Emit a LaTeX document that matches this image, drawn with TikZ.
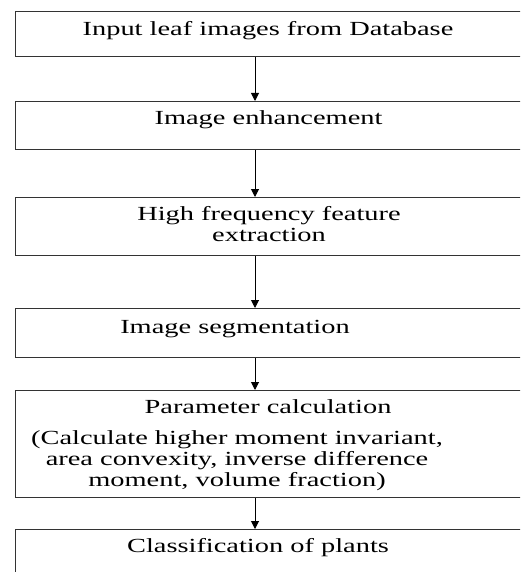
\documentclass[tikz,border=0pt]{standalone}
\usepackage{fontspec}
\setmainfont{Liberation Serif}
\usepackage{graphicx}
\usetikzlibrary{arrows.meta}
\newcommand{\wtxt}[1]{\scalebox{1.42}[1]{#1}}
\newcommand{\wlines}[1]{\scalebox{1.42}[1]{\begin{tabular}[t]{@{}c@{}}#1\end{tabular}}}
\tikzset{
  stepbox/.style={draw=black!80, line width=1.3pt, rectangle, fill=white, inner sep=0pt, minimum width=516pt, anchor=north west},
  lbl/.style={inner sep=0pt, anchor=base, font=\fontsize{20}{21}\selectfont, text=black},
  arr/.style={draw=black, line width=1pt, -{Triangle[length=8pt,width=8pt]}}
}
\begin{document}
\begin{tikzpicture}[x=1pt,y=-1pt]
\useasboundingbox (0,0) rectangle (520,572);
\fill[white] (0,0) rectangle (520,572);
\clip (0,0) rectangle (520,572);
\node[stepbox, minimum height=45pt] (b1) at (14.5,11) {};
\node[stepbox, minimum height=48pt] (b2) at (14.5,101) {};
\node[stepbox, minimum height=58pt] (b3) at (14.5,197) {};
\node[stepbox, minimum height=49pt] (b4) at (14.5,308) {};
\node[stepbox, minimum height=107pt] (b5) at (14.5,390) {};
\node[stepbox, minimum height=71pt] (b6) at (14.5,529) {};
\node[lbl] (t1) at (268,35.7) {\wtxt{Input leaf images from Database}};
\node[lbl] (t2) at (268.5,125) {\wtxt{Image enhancement}};
\node[lbl] (t3) at (269,220) {\wlines{High frequency feature\\extraction}};
\node[lbl] (t4) at (235,333) {\wtxt{Image segmentation}};
\node[lbl] (t5) at (268,413) {\wtxt{Parameter calculation}};
\node[lbl] (t5b) at (237,444) {\wlines{(Calculate higher moment invariant,\\area convexity, inverse difference\\moment, volume fraction)}};
\node[lbl] (t6) at (258,552) {\wtxt{Classification of plants}};
\coordinate (ax) at (255,0);
\draw[arr] (b1.south -| ax) -- (b2.north -| ax);
\draw[arr] (b2.south -| ax) -- (b3.north -| ax);
\draw[arr] (b3.south -| ax) -- (b4.north -| ax);
\draw[arr] (b4.south -| ax) -- (b5.north -| ax);
\draw[arr] (b5.south -| ax) -- (b6.north -| ax);
\end{tikzpicture}
\end{document}
